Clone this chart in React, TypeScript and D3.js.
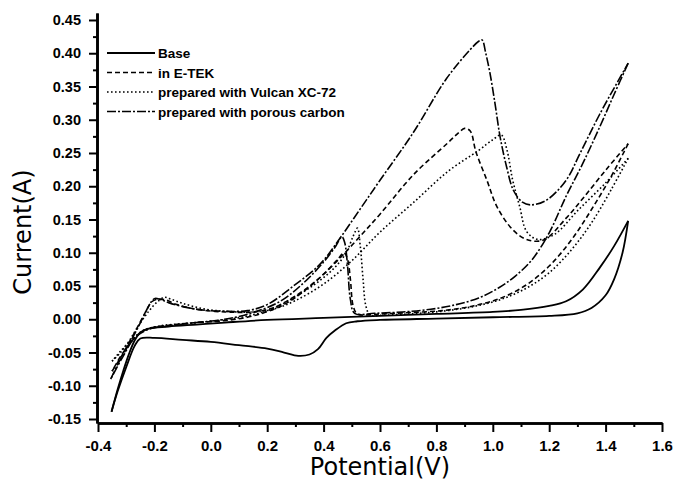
import React, { useEffect, useRef } from 'react'
import * as d3 from 'd3'

// axis ticks
const xTicks = [-0.4, -0.2, 0.0, 0.2, 0.4, 0.6, 0.8, 1.0, 1.2, 1.4, 1.6]
const xMinorTicks = [-0.3, -0.1, 0.1, 0.3, 0.5, 0.7, 0.9, 1.1, 1.3, 1.5]
const yTicks = [-0.15, -0.1, -0.05, 0.0, 0.05, 0.1, 0.15, 0.2, 0.25, 0.3, 0.35, 0.4, 0.45]
const yMinorTicks = [-0.125, -0.075, -0.025, 0.025, 0.075, 0.125, 0.175, 0.225, 0.275, 0.325, 0.375, 0.425]

const seriesNames = ['Base', 'in E-TEK', 'prepared with Vulcan XC-72', 'prepared with porous carbon']

// [potential V, current A], forward then reverse sweep
const baseForward = [
  [-0.352, -0.139], [-0.33, -0.105], [-0.31, -0.077], [-0.29, -0.052], [-0.27, -0.032], [-0.25, -0.02],
  [-0.22, -0.014], [-0.15, -0.011], [-0.05, -0.008], [0.05, -0.005], [0.2, -0.001], [0.4, 0.002],
  [0.6, 0.005], [0.8, 0.008], [1.0, 0.011], [1.1, 0.014], [1.2, 0.02], [1.26, 0.027], [1.32, 0.045],
  [1.38, 0.078], [1.43, 0.11], [1.48, 0.148]
]
const baseReverse = [
  [1.48, 0.148], [1.46, 0.1], [1.43, 0.06], [1.4, 0.036], [1.35, 0.017], [1.3, 0.009], [1.2, 0.005],
  [1.0, 0.003], [0.8, 0.001], [0.6, -0.001], [0.52, -0.003], [0.48, -0.006], [0.44, -0.017],
  [0.41, -0.028], [0.38, -0.045], [0.35, -0.053], [0.31, -0.055], [0.26, -0.05], [0.2, -0.044],
  [0.1, -0.039], [0.0, -0.034], [-0.1, -0.031], [-0.2, -0.028], [-0.25, -0.029], [-0.27, -0.04],
  [-0.3, -0.072], [-0.33, -0.108], [-0.352, -0.139]
]

const etekForward = [
  [-0.35, -0.078], [-0.32, -0.058], [-0.29, -0.035], [-0.26, -0.012], [-0.23, 0.012], [-0.21, 0.026],
  [-0.19, 0.03], [-0.16, 0.029], [-0.12, 0.022], [-0.05, 0.015], [0.05, 0.011], [0.15, 0.011],
  [0.22, 0.017], [0.3, 0.035], [0.38, 0.06], [0.46, 0.093], [0.53, 0.125], [0.6, 0.158], [0.72, 0.218],
  [0.84, 0.265], [0.88, 0.281], [0.9, 0.287], [0.92, 0.283], [0.94, 0.252], [0.98, 0.208],
  [1.015, 0.169], [1.07, 0.135], [1.12, 0.12], [1.18, 0.119], [1.26, 0.152], [1.32, 0.182],
  [1.4, 0.224], [1.48, 0.264]
]
const etekReverse = [
  [1.48, 0.264], [1.42, 0.215], [1.35, 0.165], [1.28, 0.12], [1.2, 0.08], [1.12, 0.052], [1.03, 0.032],
  [0.93, 0.02], [0.82, 0.013], [0.7, 0.01], [0.6, 0.008], [0.52, 0.008], [0.505, 0.02], [0.495, 0.06],
  [0.485, 0.09], [0.472, 0.1], [0.45, 0.09], [0.4, 0.068], [0.33, 0.042], [0.25, 0.02], [0.15, 0.005],
  [0.05, -0.002], [-0.05, -0.005], [-0.15, -0.009], [-0.21, -0.013], [-0.25, -0.02], [-0.29, -0.038],
  [-0.32, -0.056], [-0.35, -0.078]
]

const vulcanForward = [
  [-0.35, -0.063], [-0.32, -0.05], [-0.29, -0.033], [-0.26, -0.012], [-0.22, 0.012], [-0.19, 0.026],
  [-0.165, 0.033], [-0.14, 0.03], [-0.1, 0.024], [-0.03, 0.016], [0.05, 0.012], [0.15, 0.011],
  [0.22, 0.015], [0.3, 0.028], [0.4, 0.053], [0.5, 0.088], [0.6, 0.131], [0.72, 0.176], [0.84, 0.222],
  [0.95, 0.254], [1.0, 0.27], [1.03, 0.277], [1.05, 0.255], [1.07, 0.21], [1.095, 0.17], [1.12, 0.132],
  [1.16, 0.12], [1.22, 0.128], [1.3, 0.163], [1.4, 0.205], [1.48, 0.242]
]
const vulcanReverse = [
  [1.48, 0.242], [1.42, 0.195], [1.35, 0.145], [1.28, 0.105], [1.2, 0.07], [1.12, 0.047], [1.03, 0.03],
  [0.93, 0.019], [0.82, 0.012], [0.7, 0.008], [0.6, 0.006], [0.565, 0.006], [0.55, 0.02], [0.54, 0.06],
  [0.53, 0.11], [0.52, 0.137], [0.505, 0.125], [0.48, 0.1], [0.44, 0.078], [0.38, 0.056], [0.3, 0.034],
  [0.22, 0.016], [0.12, 0.004], [0.02, -0.002], [-0.08, -0.006], [-0.18, -0.01], [-0.24, -0.017],
  [-0.29, -0.035], [-0.32, -0.048], [-0.35, -0.063]
]

const porousForward = [
  [-0.355, -0.09], [-0.33, -0.068], [-0.3, -0.045], [-0.27, -0.022], [-0.24, 0.003], [-0.22, 0.02],
  [-0.2, 0.031], [-0.18, 0.03], [-0.15, 0.025], [-0.1, 0.019], [-0.03, 0.014], [0.05, 0.012],
  [0.13, 0.013], [0.2, 0.022], [0.29, 0.049], [0.39, 0.084], [0.46, 0.123], [0.53, 0.166], [0.6, 0.209],
  [0.717, 0.28], [0.836, 0.362], [0.919, 0.405], [0.95, 0.418], [0.962, 0.42], [0.975, 0.4],
  [0.99, 0.37], [1.008, 0.324], [1.026, 0.274], [1.049, 0.229], [1.073, 0.194], [1.105, 0.176],
  [1.135, 0.172], [1.19, 0.179], [1.26, 0.209], [1.31, 0.25], [1.38, 0.309], [1.48, 0.385]
]
const porousReverse = [
  [1.48, 0.385], [1.43, 0.338], [1.38, 0.29], [1.32, 0.235], [1.26, 0.185], [1.2, 0.13], [1.14, 0.09],
  [1.08, 0.065], [1.02, 0.047], [0.95, 0.032], [0.87, 0.022], [0.78, 0.015], [0.68, 0.011],
  [0.58, 0.009], [0.51, 0.009], [0.495, 0.03], [0.485, 0.08], [0.475, 0.115], [0.465, 0.124],
  [0.44, 0.108], [0.4, 0.086], [0.33, 0.055], [0.25, 0.028], [0.15, 0.01], [0.05, 0.0],
  [-0.05, -0.005], [-0.15, -0.01], [-0.22, -0.015], [-0.27, -0.028], [-0.31, -0.055], [-0.355, -0.09]
]

const dashes = [null, '5,3', '1.6,2.4', '9,2,2,2']
const sweeps = [
  [baseForward, baseReverse],
  [etekForward, etekReverse],
  [vulcanForward, vulcanReverse],
  [porousForward, porousReverse]
]

const fmt = (n: number) => (d: any) => (Math.abs(d) < 1e-9 ? 0 : d).toFixed(n)

function App() {
  const ref = useRef<SVGSVGElement>(null)

  useEffect(() => {
    const svg = d3.select(ref.current)
    svg.selectAll('*').remove()

    const x = d3.scaleLinear().domain([-0.4, 1.6]).range([98, 662])
    const y = d3.scaleLinear().domain([-0.156, 0.4605]).range([423, 13])

    const tickFont = 'Liberation Sans, Arial, sans-serif'

    // x axis
    svg.append('g').attr('transform', 'translate(0,423)')
      .call(d3.axisBottom(x).tickValues(xMinorTicks).tickSize(4).tickSizeOuter(0).tickFormat(() => ''))
    const gx = svg.append('g').attr('transform', 'translate(0,423)')
      .call(d3.axisBottom(x).tickValues(xTicks).tickSize(9).tickSizeOuter(0).tickPadding(8).tickFormat(fmt(1)))

    // y axis
    svg.append('g').attr('transform', 'translate(97,0)')
      .call(d3.axisLeft(y).tickValues(yMinorTicks).tickSize(4).tickSizeOuter(0).tickFormat(() => ''))
    const gy = svg.append('g').attr('transform', 'translate(97,0)')
      .call(d3.axisLeft(y).tickValues(yTicks).tickSize(8).tickSizeOuter(0).tickPadding(8).tickFormat(fmt(2)))

    svg.selectAll('.domain').attr('stroke', '#000').attr('stroke-width', 2.6)
    svg.selectAll('.tick line').attr('stroke', '#000').attr('stroke-width', 2)
    gx.selectAll('text').attr('font-size', 15)
    gy.selectAll('text').attr('font-size', 14.5)
    for (const g of [gx, gy]) {
      g.selectAll('text')
        .attr('fill', '#000')
        .attr('font-family', tickFont)
        .attr('font-weight', 'bold')
    }

    // curves
    const line = d3.line()
      .x((d: any) => x(d[0]))
      .y((d: any) => y(d[1]))
      .curve(d3.curveCatmullRom.alpha(0.5))

    sweeps.forEach((pair, i) => {
      pair.forEach((pts) => {
        svg.append('path')
          .attr('d', line(pts as any))
          .attr('fill', 'none')
          .attr('stroke', '#000')
          .attr('stroke-width', i === 0 ? 1.8 : 1.6)
          .attr('stroke-dasharray', dashes[i])
          .attr('stroke-linejoin', 'round')
      })
    })

    // legend
    const legend = svg.append('g').attr('class', 'legend')
    seriesNames.forEach((name, i) => {
      const ly = 53 + i * 19.5
      legend.append('line')
        .attr('x1', 107).attr('x2', 155)
        .attr('y1', ly).attr('y2', ly)
        .attr('stroke', '#000')
        .attr('stroke-width', i === 0 ? 1.8 : 1.6)
        .attr('stroke-dasharray', dashes[i])
      legend.append('text')
        .attr('x', 158).attr('y', ly + 5)
        .attr('font-family', tickFont)
        .attr('font-weight', 'bold')
        .attr('font-size', 13.5)
        .text(name)
    })

    // axis titles
    svg.append('text')
      .attr('x', 380).attr('y', 475)
      .attr('text-anchor', 'middle')
      .attr('font-family', 'DejaVu Sans, sans-serif')
      .attr('font-size', 24)
      .text('Potential(V)')

    svg.append('text')
      .attr('transform', 'translate(31,232) rotate(-90)')
      .attr('text-anchor', 'middle')
      .attr('font-family', 'DejaVu Sans, sans-serif')
      .attr('font-size', 24)
      .text('Current(A)')
  }, [])

  return (
    <div>
      <style>{'body{margin:0}'}</style>
      <svg ref={ref} width={677} height={491} style={{ display: 'block', background: '#fff' }}></svg>
    </div>
  )
}

export default App
